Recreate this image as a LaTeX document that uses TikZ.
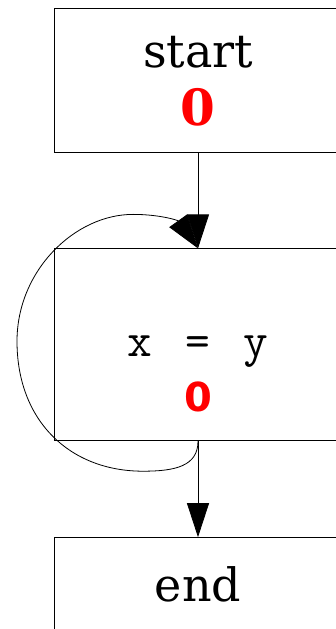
\documentclass[tikz,border=0pt]{standalone}
\usepackage{fontspec}
\setmainfont{DejaVu Serif}
\newfontfamily\numfont{DejaVu Sans}
\usetikzlibrary{arrows.meta, positioning}

\begin{document}
\begin{tikzpicture}[x=1pt, y=1pt, node distance=96pt,
        block/.style={draw, line width=0.8pt, rectangle, minimum width=288pt, align=center, inner sep=0pt},
        flow/.style={line width=0.8pt, -{Triangle[length=34pt, width=22pt]}}]
        \useasboundingbox (0,0) rectangle (336,629);

        % Start
        \node (start) [block, minimum height=144pt, text height=92pt, text depth=0pt, font=\fontsize{46}{58}\selectfont] at (198,549) {start\\{\bfseries\fontsize{50}{58}\selectfont\color{red}0}};

        % Assignment
        \node (assign) [block, minimum height=192pt, text height=134pt, text depth=0pt, font=\fontsize{48}{55}\selectfont, below=of start] {{\ttfamily x\hspace{33pt}=\hspace{33pt}y}\\{\numfont\bfseries\fontsize{40}{55}\selectfont\color{red}0}};

        % End
        \node (finish) [block, minimum height=144pt, text height=34pt, text depth=50pt, font=\fontsize{46}{58}\selectfont, below=of assign] {end};

        % Arrows
        \draw[flow] (start) -- (assign);
        \draw[flow] (assign) -- (finish);

        % Self loop
        \draw[flow] (assign.south)
            .. controls ([shift={(0,-25)}]assign.south) and ([shift={(-23,-30)}]assign.south) .. ([shift={(-55,-30)}]assign.south)
            .. controls ([shift={(-128,-30)}]assign.south) and ([shift={(-181,20)}]assign.south) .. ([shift={(-181,100)}]assign.south)
            .. controls ([shift={(-181,-22)}]assign.north) and ([shift={(-123,34)}]assign.north) .. ([shift={(-65,34)}]assign.north)
            .. controls ([shift={(-38,34)}]assign.north) and ([shift={(-20,28)}]assign.north) .. (assign.north);
    \end{tikzpicture}
\end{document}
